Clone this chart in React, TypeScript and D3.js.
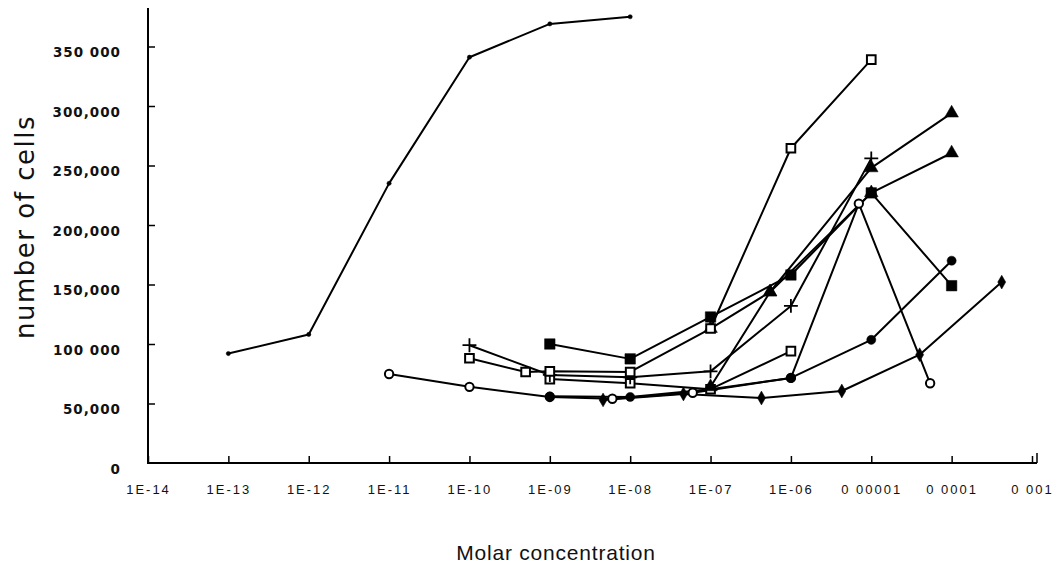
// App.tsx
import * as d3 from 'd3';
import React, { useRef, useEffect } from 'react';

// tick values + labels as printed on the scan
const xTicks = [1e-14, 1e-13, 1e-12, 1e-11, 1e-10, 1e-9, 1e-8, 1e-7, 1e-6, 1e-5, 1e-4, 1e-3];
const xTickLabels = ["1E-14", "1E-13", "1E-12", "1E-11", "1E-10", "1E-09", "1E-08", "1E-07", "1E-06", "0 00001", "0 0001", "0 001"];
const yTicks = [0, 50000, 100000, 150000, 200000, 250000, 300000, 350000];
const yTickLabels = ["0", "50,000", "100 000", "150,000", "200,000", "250,000", "300,000", "350 000"];

// series (molar concentration / number of cells)
const sigmoidConc = [1e-13, 1e-12, 1e-11, 1e-10, 1e-9, 1e-8];
const sigmoidCells = [92000, 108000, 235000, 341000, 369000, 375000];

const openCircleConc = [1e-11, 1e-10, 1e-9, 6e-9, 6e-8, 1e-6, 7e-6, 5.4e-5];
const openCircleCells = [74800, 64000, 55500, 54000, 59000, 71500, 218000, 67000];

const filledCircleConc = [1e-9, 1e-8, 1e-7, 1e-6, 1e-5, 1e-4];
const filledCircleCells = [56000, 55500, 62000, 71500, 103500, 170000];

const diamondConc = [4.6e-9, 4.6e-8, 4.3e-7, 4.3e-6, 4e-5, 4.2e-4];
const diamondCells = [53000, 58000, 54600, 60500, 91000, 152000];

const filledSquareConc = [1e-9, 1e-8, 1e-7, 1e-6, 1e-5, 1e-4];
const filledSquareCells = [100000, 87500, 122700, 158000, 227000, 149000];

const openSquareAConc = [1e-10, 5e-10, 1e-9, 1e-8, 1e-7, 1e-6, 1e-5];
const openSquareACells = [88000, 76500, 77000, 76500, 113000, 264500, 339000];

const openSquareBConc = [1e-9, 1e-8, 1e-7, 1e-6];
const openSquareBCells = [70500, 67000, 62000, 94000];

const plusConc = [1e-10, 1e-9, 1e-8, 1e-7, 1e-6, 1e-5];
const plusCells = [99000, 74000, 72000, 77000, 132000, 256000];

const triangleAConc = [1e-7, 5.5e-7, 1e-5, 1e-4];
const triangleACells = [64000, 143700, 248000, 294000];

const triangleBConc = [1e-7, 5.5e-7, 1e-5, 1e-4];
const triangleBCells = [113000, 143700, 227000, 260500];

const series = [
    { conc: sigmoidConc, cells: sigmoidCells, mark: 'dot' },
    { conc: openCircleConc, cells: openCircleCells, mark: 'openCircle' },
    { conc: filledCircleConc, cells: filledCircleCells, mark: 'circle' },
    { conc: diamondConc, cells: diamondCells, mark: 'diamond' },
    { conc: openSquareBConc, cells: openSquareBCells, mark: 'openSquare' },
    { conc: plusConc, cells: plusCells, mark: 'plus' },
    { conc: triangleAConc, cells: triangleACells, mark: 'triangle' },
    { conc: triangleBConc, cells: triangleBCells, mark: 'triangle' },
    { conc: openSquareAConc, cells: openSquareACells, mark: 'openSquare' },
    { conc: filledSquareConc, cells: filledSquareCells, mark: 'square' },
];

function App() {
    const ref = useRef<SVGSVGElement>(null);

    useEffect(() => {
        const svg = d3.select(ref.current);
        svg.selectAll('*').remove();

        const x = d3.scaleLog().domain([1e-14, 1e-3]).range([148, 1032]);
        const y = d3.scaleLinear().domain([0, 350000]).range([463, 46.5]);

        // axes
        const xAxis = svg.append('g')
            .attr('transform', 'translate(0,463)')
            .call(d3.axisBottom(x).tickValues(xTicks)
                .tickFormat((d, i) => xTickLabels[i])
                .tickSizeInner(-7).tickSizeOuter(0).tickPadding(22));
        xAxis.select('.domain').remove();
        xAxis.selectAll('line').attr('stroke', '#000').attr('stroke-width', 1.5);
        xAxis.selectAll('text')
            .attr('font-family', 'Liberation Sans, Arial, sans-serif')
            .attr('font-size', 13)
            .attr('letter-spacing', 2)
            .attr('fill', '#111');

        const yAxis = svg.append('g')
            .attr('transform', 'translate(148,0)')
            .call(d3.axisLeft(y).tickValues(yTicks)
                .tickFormat((d, i) => yTickLabels[i])
                .tickSizeInner(-7).tickSizeOuter(0).tickPadding(27));
        yAxis.select('.domain').remove();
        yAxis.selectAll('.tick').filter((d) => d === 0).select('line').remove();
        yAxis.selectAll('line').attr('stroke', '#000').attr('stroke-width', 1.5);
        yAxis.selectAll('text')
            .attr('font-family', 'DejaVu Sans, sans-serif')
            .attr('font-weight', 'bold')
            .attr('font-size', 13.5)
            .attr('letter-spacing', 1)
            .attr('dy', '0.75em')
            .attr('fill', '#111');

        svg.append('line')
            .attr('x1', 148).attr('x2', 148).attr('y1', 8).attr('y2', 464)
            .attr('stroke', '#000').attr('stroke-width', 2);
        svg.append('line')
            .attr('x1', 147).attr('x2', 1037).attr('y1', 463).attr('y2', 463)
            .attr('stroke', '#000').attr('stroke-width', 2);
        svg.append('line')
            .attr('x1', 1037).attr('x2', 1037).attr('y1', 463).attr('y2', 453)
            .attr('stroke', '#000').attr('stroke-width', 1.5);

        // titles
        svg.append('text')
            .attr('x', 556).attr('y', 560)
            .attr('text-anchor', 'middle')
            .attr('font-family', 'Liberation Sans, Arial, sans-serif')
            .attr('font-size', 21)
            .attr('letter-spacing', 0.8)
            .attr('fill', '#111')
            .text('Molar concentration');
        svg.append('text')
            .attr('transform', 'translate(34,227) rotate(-90)')
            .attr('text-anchor', 'middle')
            .attr('font-family', 'DejaVu Sans, sans-serif')
            .attr('font-size', 26)
            .attr('letter-spacing', 1.5)
            .attr('fill', '#111')
            .text('number of cells');

        const line = d3.line<[number, number]>()
            .x((d) => x(d[0]))
            .y((d) => y(d[1]));

        const plot = svg.append('g');

        series.forEach((s) => {
            const pts: [number, number][] = s.conc.map((c, i) => [c, s.cells[i]]);
            plot.append('path')
                .datum(pts)
                .attr('d', line)
                .attr('fill', 'none')
                .attr('stroke', '#000')
                .attr('stroke-width', 2)
                .attr('stroke-linejoin', 'round');
        });

        const shapes: Record<string, any> = {
            dot: d3.symbol(d3.symbolCircle, 14),
            openCircle: d3.symbol(d3.symbolCircle, 55),
            circle: d3.symbol(d3.symbolCircle, 65),
            diamond: d3.symbol(d3.symbolDiamond, 55),
            openSquare: d3.symbol(d3.symbolSquare, 75),
            square: d3.symbol(d3.symbolSquare, 110),
            plus: d3.symbol(d3.symbolPlus, 65),
            triangle: d3.symbol(d3.symbolTriangle, 80),
        };

        series.forEach((s) => {
            const pts: [number, number][] = s.conc.map((c, i) => [c, s.cells[i]]);
            const open = s.mark === 'openCircle' || s.mark === 'openSquare';
            const isPlus = s.mark === 'plus';
            plot.append('g')
                .selectAll('path')
                .data(pts)
                .enter()
                .append('path')
                .attr('transform', (d) => `translate(${x(d[0])},${y(d[1])})`)
                .attr('d', shapes[s.mark]())
                .attr('fill', isPlus ? 'none' : open ? '#fff' : '#000')
                .attr('stroke', '#000')
                .attr('stroke-width', isPlus ? 1.8 : open ? 2 : 0.5);
        });
    }, []);

    return (
        <div className="chart">
            <style>{`body{margin:0;background:#fff}`}</style>
            <svg ref={ref} width={1056} height={569} style={{ display: 'block' }}>
            </svg>
        </div>
    );
}

export default App;
